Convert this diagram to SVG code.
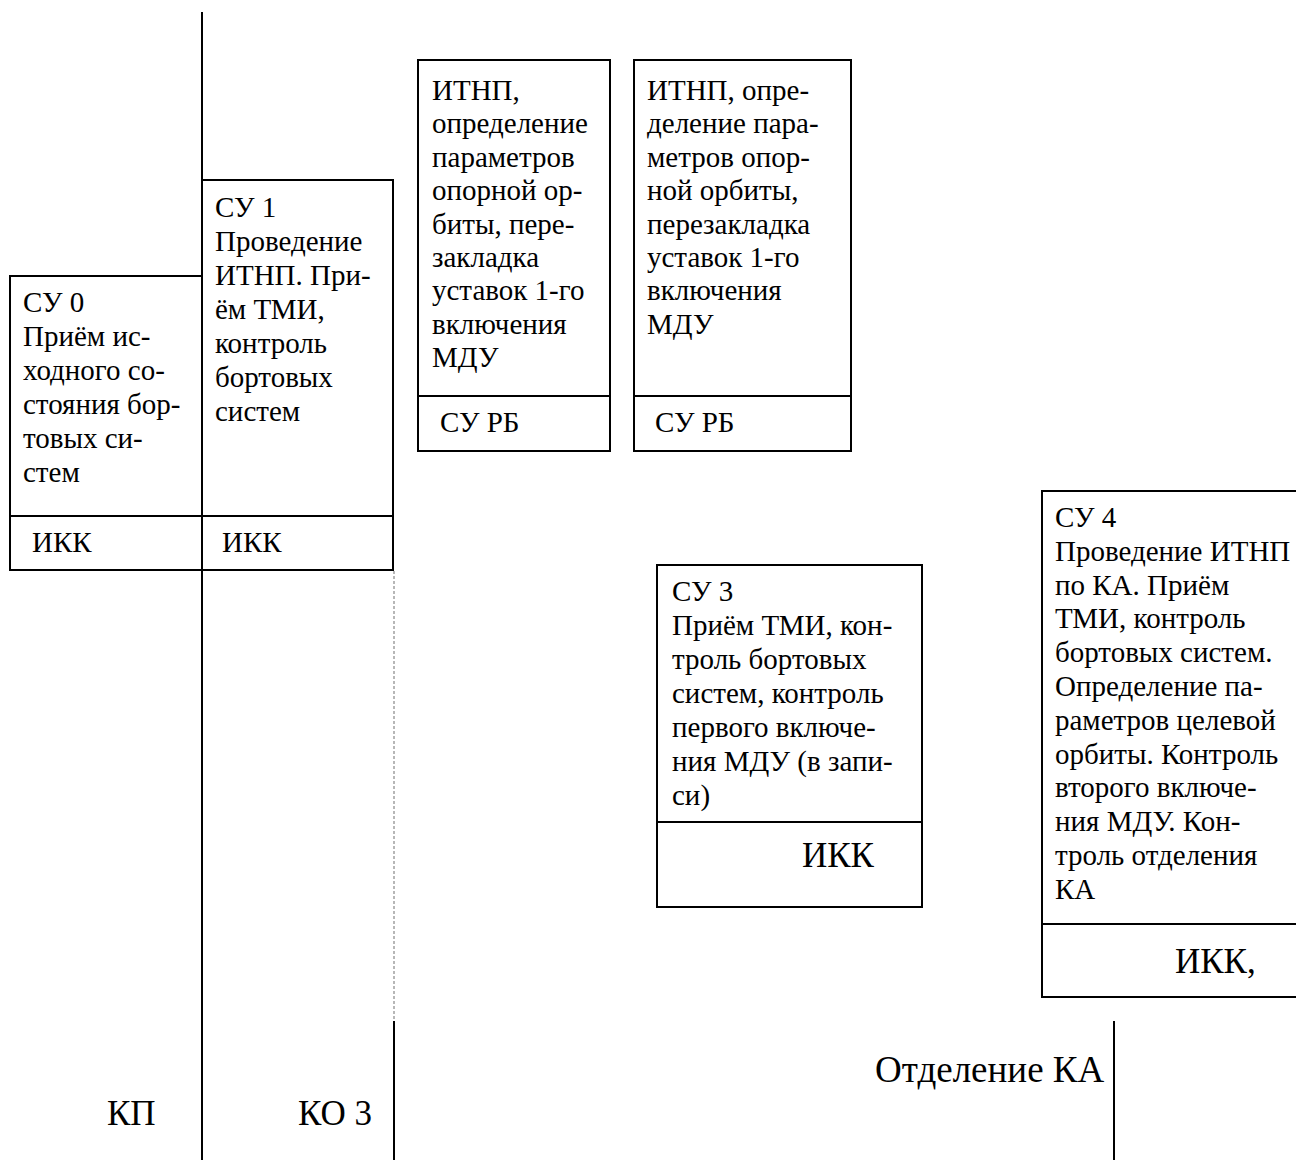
<svg xmlns="http://www.w3.org/2000/svg" width="1296" height="1160" viewBox="0 0 1296 1160">
<style>
.box{fill:none;stroke:#000;stroke-width:2}
.ln{stroke:#000;stroke-width:2;fill:none}
.dot{stroke:#a0a0a0;stroke-width:1.5;stroke-dasharray:3 2;fill:none}
text{font-family:"Liberation Serif","Times New Roman",serif;fill:#000}
.s{font-size:29px}
.l{font-size:35px}
.xl{font-size:37px}
</style>
<rect width="1296" height="1160" fill="#fff"/>
<g id="connectors">
<line class="ln" x1="202" y1="12" x2="202" y2="1160"/>
<line class="dot" x1="394" y1="571" x2="394" y2="1021"/>
<line class="ln" x1="394" y1="1021" x2="394" y2="1160"/>
<line class="ln" x1="1114" y1="1021" x2="1114" y2="1160"/>
</g>
<g id="su0">
<rect class="box" x="10" y="276" width="192" height="294"/>
<line class="ln" x1="10" y1="516" x2="202" y2="516"/>
<text class="s" x="23" y="312">СУ 0</text>
<text class="s" x="23" y="346">Приём ис-</text>
<text class="s" x="23" y="380">ходного со-</text>
<text class="s" x="23" y="414">стояния бор-</text>
<text class="s" x="23" y="448">товых си-</text>
<text class="s" x="23" y="482">стем</text>
<text class="s" x="32" y="552">ИКК</text>
</g>
<g id="su1">
<rect class="box" x="202" y="180" width="191" height="390"/>
<line class="ln" x1="202" y1="516" x2="393" y2="516"/>
<text class="s" x="215" y="217">СУ 1</text>
<text class="s" x="215" y="251">Проведение</text>
<text class="s" x="215" y="285">ИТНП. При-</text>
<text class="s" x="215" y="319">ём ТМИ,</text>
<text class="s" x="215" y="353">контроль</text>
<text class="s" x="215" y="387">бортовых</text>
<text class="s" x="215" y="421">систем</text>
<text class="s" x="222" y="552">ИКК</text>
</g>
<g id="itnp1">
<rect class="box" x="418" y="60" width="192" height="391"/>
<line class="ln" x1="418" y1="396" x2="610" y2="396"/>
<text class="s" x="432" y="100">ИТНП,</text>
<text class="s" x="432" y="133.4">определение</text>
<text class="s" x="432" y="166.8">параметров</text>
<text class="s" x="432" y="200.2">опорной ор-</text>
<text class="s" x="432" y="233.6">биты, пере-</text>
<text class="s" x="432" y="267">закладка</text>
<text class="s" x="432" y="300.4">уставок 1-го</text>
<text class="s" x="432" y="333.8">включения</text>
<text class="s" x="432" y="367.2">МДУ</text>
<text class="s" x="440" y="432">СУ РБ</text>
</g>
<g id="itnp2">
<rect class="box" x="634" y="60" width="217" height="391"/>
<line class="ln" x1="634" y1="396" x2="851" y2="396"/>
<text class="s" x="647" y="100">ИТНП, опре-</text>
<text class="s" x="647" y="133.4">деление пара-</text>
<text class="s" x="647" y="166.8">метров опор-</text>
<text class="s" x="647" y="200.2">ной орбиты,</text>
<text class="s" x="647" y="233.6">перезакладка</text>
<text class="s" x="647" y="267">уставок 1-го</text>
<text class="s" x="647" y="300.4">включения</text>
<text class="s" x="647" y="333.8">МДУ</text>
<text class="s" x="655" y="432">СУ РБ</text>
</g>
<g id="su3">
<rect class="box" x="657" y="565" width="265" height="342"/>
<line class="ln" x1="657" y1="822" x2="922" y2="822"/>
<text class="s" x="672" y="601">СУ 3</text>
<text class="s" x="672" y="635">Приём ТМИ, кон-</text>
<text class="s" x="672" y="669">троль бортовых</text>
<text class="s" x="672" y="703">систем, контроль</text>
<text class="s" x="672" y="737">первого включе-</text>
<text class="s" x="672" y="771">ния МДУ (в запи-</text>
<text class="s" x="672" y="805">си)</text>
<text class="l" x="802" y="867">ИКК</text>
</g>
<g id="su4">
<rect class="box" x="1042" y="491" width="270" height="506"/>
<line class="ln" x1="1042" y1="924" x2="1296" y2="924"/>
<text class="s" x="1055" y="527">СУ 4</text>
<text class="s" x="1055" y="560.8">Проведение ИТНП</text>
<text class="s" x="1055" y="594.6">по КА. Приём</text>
<text class="s" x="1055" y="628.4">ТМИ, контроль</text>
<text class="s" x="1055" y="662.2">бортовых систем.</text>
<text class="s" x="1055" y="696">Определение па-</text>
<text class="s" x="1055" y="729.8">раметров целевой</text>
<text class="s" x="1055" y="763.6">орбиты. Контроль</text>
<text class="s" x="1055" y="797.4">второго включе-</text>
<text class="s" x="1055" y="831.2">ния МДУ. Кон-</text>
<text class="s" x="1055" y="865">троль отделения</text>
<text class="s" x="1055" y="898.8">КА</text>
<text class="l" x="1175" y="973">ИКК,</text>
</g>
<g id="labels">
<text class="l" x="107" y="1125">КП</text>
<text class="l" x="298" y="1125">КО 3</text>
<text class="xl" x="875" y="1082">Отделение КА</text>
</g>
</svg>
